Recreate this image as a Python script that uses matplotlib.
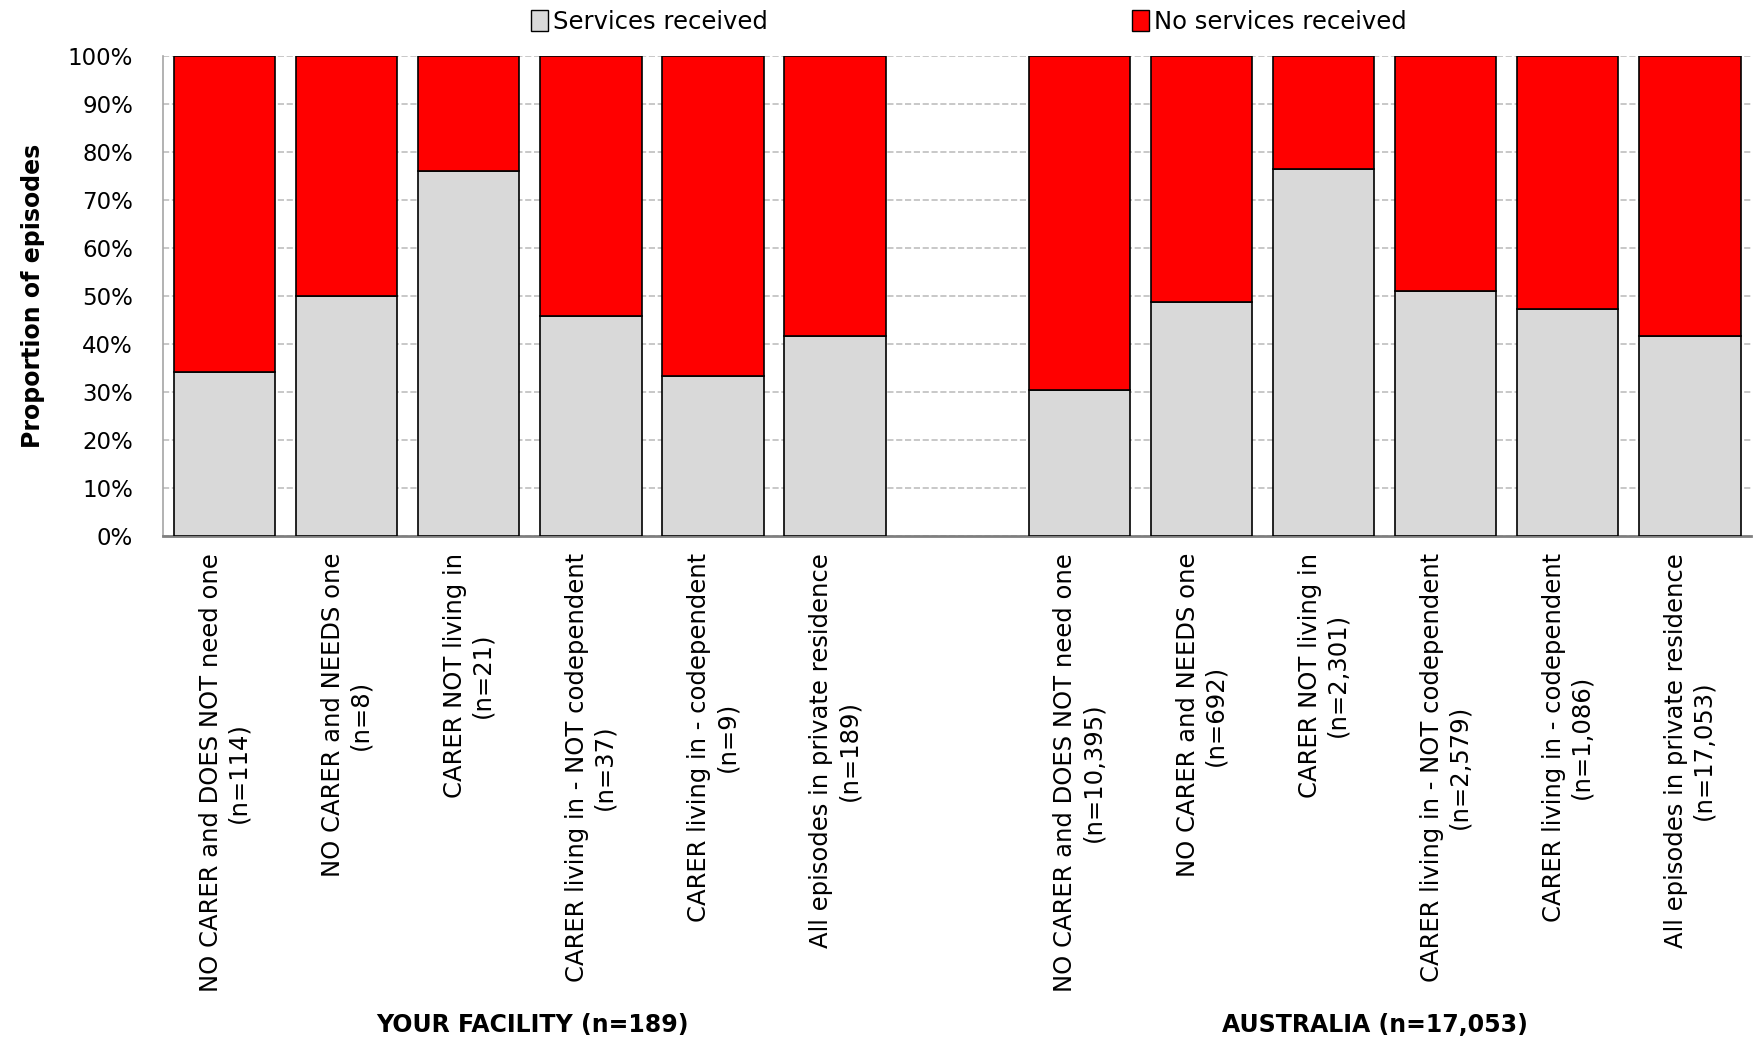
import numpy as np
import matplotlib
matplotlib.use('Agg')
import matplotlib.pyplot as plt
from matplotlib.ticker import PercentFormatter
from matplotlib.patches import Patch

plt.rcParams['font.family'] = ['DejaVu Sans']

categories = ['NO CARER and DOES NOT need one', 'NO CARER and NEEDS one',
              'CARER NOT living in', 'CARER living in - NOT codependent',
              'CARER living in - codependent', 'All episodes in private residence']
facility_n = ['114', '8', '21', '37', '9', '189']
australia_n = ['10,395', '692', '2,301', '2,579', '1,086', '17,053']

# percentage of episodes with services received
facility_services = [34.2, 50.0, 76.2, 45.9, 33.3, 41.8]
australia_services = [30.5, 48.9, 76.5, 51.0, 47.4, 41.8]

group_titles = ['YOUR FACILITY (n=189)', 'AUSTRALIA (n=17,053)']
series_names = ['Services received', 'No services received']
grey = '#D9D9D9'
red = '#FF0000'

fig = plt.figure(figsize=(17.58, 10.45), dpi=100)
ax = fig.add_axes([0.093, 0.487, 0.903, 0.459])

x_fac = np.arange(6)
x_aus = np.arange(6) + 7
xs = np.concatenate([x_fac, x_aus])
serv = np.array(facility_services + australia_services)
noserv = 100 - serv

w = 0.83
ax.bar(xs, serv, w, color=grey, edgecolor='black', linewidth=1.2, zorder=3)
ax.bar(xs, noserv, w, bottom=serv, color=red, edgecolor='black', linewidth=1.2, zorder=3)

labels = [c + '\n(n=' + n + ')' for c, n in zip(categories, facility_n)] + \
         [c + '\n(n=' + n + ')' for c, n in zip(categories, australia_n)]
ax.set_xticks(xs)
ax.set_xticklabels(labels, rotation=90, fontsize=17.5, multialignment='center', va='top', ha='center')

ax.set_xlim(-0.5, 12.5)
ax.set_ylim(0, 100)
ax.set_yticks(np.arange(0, 101, 10))
ax.yaxis.set_major_formatter(PercentFormatter(decimals=0))
ax.tick_params(axis='both', length=0)
ax.tick_params(axis='x', pad=12)
ax.tick_params(axis='y', pad=22, labelsize=16.5)

ax.yaxis.grid(True, linestyle='--', color='#BFBFBF', linewidth=1.2, zorder=0)
ax.set_axisbelow(True)
for s in ['top', 'right']:
    ax.spines[s].set_visible(False)
ax.spines['left'].set_color('#A6A6A6')
ax.spines['left'].set_linewidth(1.2)
ax.spines['bottom'].set_color('#808080')
ax.spines['bottom'].set_linewidth(2)

ax.set_ylabel('Proportion of episodes', fontsize=17, fontweight='bold', labelpad=16)

fig.text(0.303, 0.008, group_titles[0], ha='center', va='bottom', fontsize=17, fontweight='bold')
fig.text(0.782, 0.008, group_titles[1], ha='center', va='bottom', fontsize=17, fontweight='bold')

handles = [Patch(facecolor=grey, edgecolor='black', label=series_names[0]),
           Patch(facecolor=red, edgecolor='black', label=series_names[1])]
fig.legend(handles=handles, loc='center', bbox_to_anchor=(0.551, 0.979), ncol=2, frameon=False,
           fontsize=17.5, handlelength=0.7, handleheight=0.9, handletextpad=0.2, columnspacing=15)

fig.savefig('out.png', dpi=100)
